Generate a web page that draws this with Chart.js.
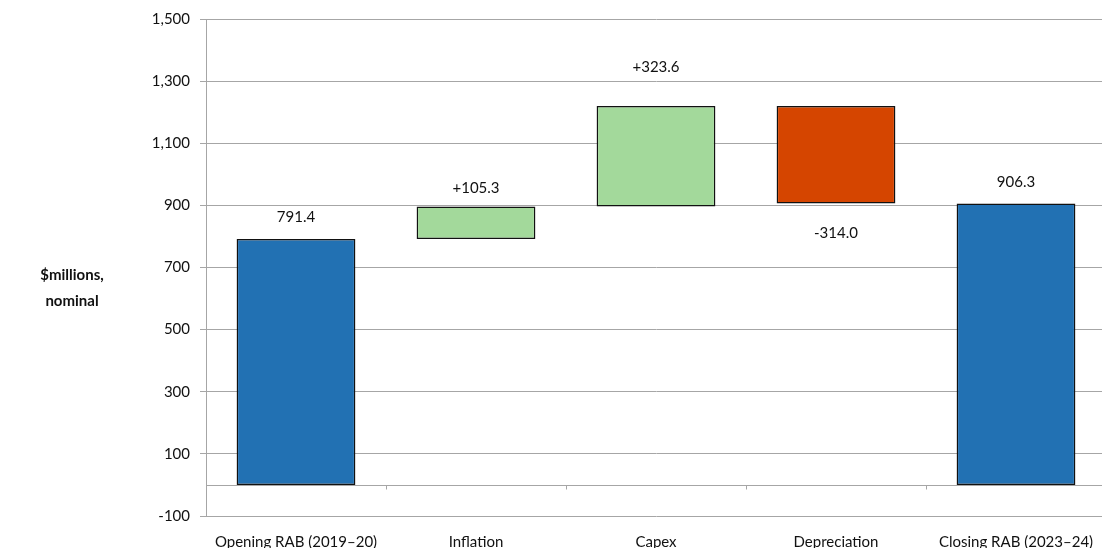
<!DOCTYPE html>
<html lang="en">
<head>
  <meta charset="UTF-8" />
  <title>RAB roll forward</title>
  <script src="https://cdn.jsdelivr.net/npm/chart.js"></script>
  <style>
    body {
      margin: 0;
      background: #fff;
      overflow: hidden;
    }
    #wrap {
      width: 1106px;
      height: 548px;
    }
  </style>
</head>
<body>
  <div id="wrap"><canvas id="rab"></canvas></div>

  <script>
    // Roll forward of the asset base, $m nominal
    const categories = ['Opening RAB (2019–20)', 'Inflation', 'Capex', 'Depreciation', 'Closing RAB (2023–24)'];
    const amounts = [791.4, 105.3, 323.6, -314.0, 906.3];
    const isTotal = [true, false, false, false, true];
    const yTicks = [-100, 100, 300, 500, 700, 900, 1100, 1300, 1500];

    const BLUE = '#2271b3';
    const GREEN = '#a3d99b';
    const RED = '#d54500';
    const GRID = '#a6a6a6';
    const FONT = 'Lato, "Open Sans", sans-serif';

    // floating [start, end] for each bar
    let running = 0;
    const ranges = amounts.map((v, i) => {
      if (isTotal[i]) { running = v; return [0, v]; }
      const r = [running, running + v];
      running += v;
      return r;
    });
    const colors = amounts.map((v, i) => isTotal[i] ? BLUE : (v >= 0 ? GREEN : RED));
    const labelText = amounts.map((v, i) => (isTotal[i] || v < 0 ? '' : '+') + v.toFixed(1));

    // zero line with small ticks between categories, value labels, horizontal axis title
    const extras = {
      id: 'extras',
      beforeDatasetsDraw(chart) {
        const { ctx, chartArea, scales } = chart;
        const y0 = Math.round(scales.y.getPixelForValue(0)) + 0.5;
        ctx.save();
        ctx.strokeStyle = GRID;
        ctx.lineWidth = 1;
        ctx.beginPath();
        ctx.moveTo(chartArea.left, y0);
        ctx.lineTo(chartArea.right, y0);
        const step = (chartArea.right - chartArea.left) / categories.length;
        for (let i = 1; i < categories.length; i++) {
          const x = Math.round(chartArea.left + step * i) + 0.5;
          ctx.moveTo(x, y0);
          ctx.lineTo(x, y0 + 4);
        }
        ctx.stroke();
        ctx.restore();
      },
      afterDatasetsDraw(chart, args, opts) {
        const { ctx, scales } = chart;
        ctx.save();
        ctx.fillStyle = '#111';
        ctx.font = '15px ' + FONT;
        ctx.textAlign = 'center';
        ctx.textBaseline = 'middle';
        const meta = chart.getDatasetMeta(0);
        meta.data.forEach((bar, i) => {
          const r = ranges[i];
          const top = scales.y.getPixelForValue(Math.max(r[0], r[1]));
          const bottom = scales.y.getPixelForValue(Math.min(r[0], r[1]));
          const y = amounts[i] < 0 ? bottom + opts.gap[i] : top - opts.gap[i];
          ctx.fillText(labelText[i], bar.x, y);
        });

        ctx.font = 'bold 15px ' + FONT;
        ctx.fillText('$millions,', 72, 275);
        ctx.fillText('nominal', 72, 301);
        ctx.restore();
      }
    };

    new Chart(document.getElementById('rab'), {
      type: 'bar',
      data: {
        labels: categories,
        datasets: [{
          data: ranges,
          backgroundColor: colors,
          borderColor: '#111',
          borderWidth: 1.5,
          borderSkipped: false,
          categoryPercentage: 1,
          barPercentage: 0.66
        }]
      },
      options: {
        responsive: true,
        maintainAspectRatio: false,
        animation: false,
        layout: { padding: { top: 19, right: 0, bottom: 0, left: 0 } },
        plugins: {
          legend: { display: false },
          tooltip: { enabled: false },
          extras: { gap: [22, 18, 39, 30, 21] }
        },
        scales: {
          x: {
            grid: { display: false },
            border: { display: false },
            ticks: { color: '#111', font: { family: FONT, size: 15 }, padding: 9, maxRotation: 0 },
            afterFit: (s) => { s.height = 32; }
          },
          y: {
            min: -100,
            max: 1500,
            afterBuildTicks: (s) => { s.ticks = yTicks.map(v => ({ value: v })); },
            grid: { color: GRID, tickLength: 6 },
            border: { color: GRID },
            ticks: {
              color: '#111',
              font: { family: FONT, size: 15 },
              padding: 10,
              callback: (v) => v.toLocaleString('en-US')
            },
            afterFit: (s) => { s.width = 206; }
          }
        }
      },
      plugins: [extras]
    });
  </script>
</body>
</html>
